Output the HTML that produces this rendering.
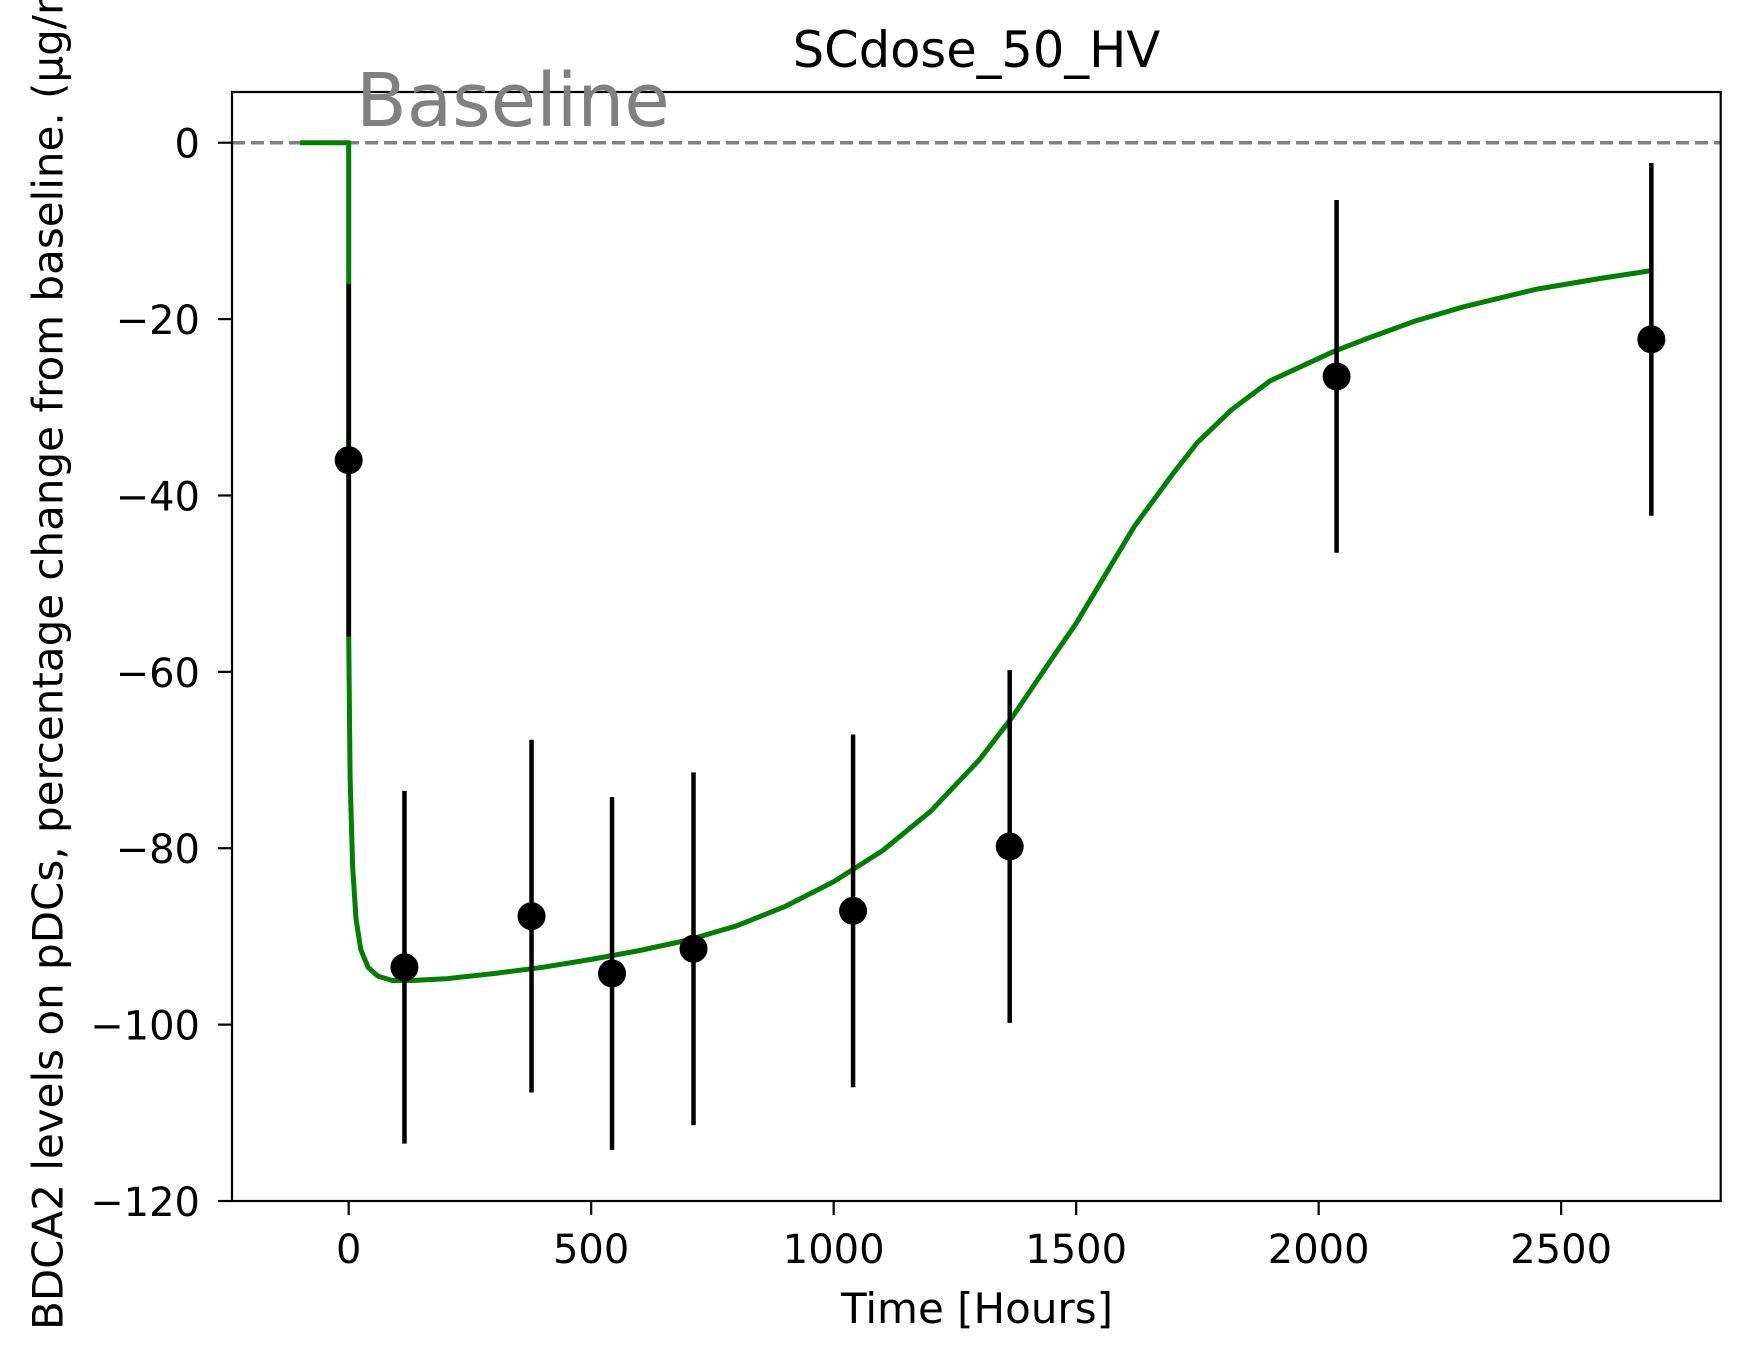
<!DOCTYPE html>
<html><head><meta charset="utf-8"><style>html,body{margin:0;padding:0;background:#fff}svg{display:block}</style></head>
<body>
<svg id="chart" width="1750" height="1361" viewBox="0 0 1750 1361" xmlns="http://www.w3.org/2000/svg" font-family="'DejaVu Sans','Liberation Sans',sans-serif">
<rect width="1750" height="1361" fill="#fff"/>
<g id="plot"></g>
</svg>
<script>
const xTicks = [0, 500, 1000, 1500, 2000, 2500];
const yTicks = [0, -20, -40, -60, -80, -100, -120];
const obsTime = [0, 115, 377, 543, 711, 1040, 1363, 2037, 2686];
const obsValue = [-36, -93.5, -87.7, -94.2, -91.4, -87.1, -79.8, -26.5, -22.3];
const obsErr = [20, 20, 20, 20, 20, 20, 20, 20, 20];
const modelTime = [-100, 0, 0, 3, 8, 15, 25, 40, 60, 90, 130, 200, 300, 400, 500, 600, 700, 800, 900, 1000, 1100, 1200, 1300, 1370, 1450, 1500, 1560, 1620, 1700, 1750, 1820, 1900, 2030, 2100, 2200, 2300, 2450, 2580, 2686];
const modelValue = [0, 0, -56, -72, -82, -88, -91.5, -93.5, -94.5, -95, -95, -94.8, -94.2, -93.5, -92.6, -91.6, -90.4, -88.8, -86.6, -83.8, -80.3, -75.8, -70, -65, -58.5, -54.5, -49, -43.5, -37.5, -34, -30.3, -27, -23.7, -22.2, -20.2, -18.6, -16.6, -15.4, -14.5];

const L=232, R=1720.7, T=92, B=1201, X0=-240.6, X1=2829, Y0=-120, Y1=5.75;
const sx = v => L + (v - X0) / (X1 - X0) * (R - L);
const sy = v => B - (v - Y0) / (Y1 - Y0) * (B - T);
const NS = 'http://www.w3.org/2000/svg';
const g = document.getElementById('plot');
function mk(tag, attrs, parent) {
  const e = document.createElementNS(NS, tag);
  for (const k in attrs) e.setAttribute(k, attrs[k]);
  (parent || g).appendChild(e);
  return e;
}
const defs = mk('defs', {});
const cp = mk('clipPath', {id: 'clip'}, defs);
mk('rect', {x: L, y: T, width: R - L, height: B - T}, cp);

const bl = mk('line', {x1: L, x2: R, y1: sy(0), y2: sy(0), stroke: '#808080', 'stroke-width': 3.5, 'stroke-dasharray': '13,6'});



const pts = modelTime.map((t, i) => sx(t).toFixed(1) + ',' + sy(modelValue[i]).toFixed(1)).join(' ');
const curve = mk('polyline', {points: pts, fill: 'none', stroke: '#008000', 'stroke-width': 5, 'stroke-linejoin': 'round', 'clip-path': 'url(#clip)'});



obsTime.forEach((t, i) => {
  const eb = mk('line', {x1: sx(t), x2: sx(t), y1: sy(obsValue[i] + obsErr[i]), y2: sy(obsValue[i] - obsErr[i]), stroke: '#000', 'stroke-width': 4.5});
  
  
  const c = mk('circle', {cx: sx(t), cy: sy(obsValue[i]), r: 14, fill: '#000'});
  
  
});

const fr = mk('rect', {x: L, y: T, width: R - L, height: B - T, fill: 'none', stroke: '#000', 'stroke-width': 2.2});



xTicks.forEach(v => {
  const x = sx(v);
  const tk = mk('line', {x1: x, x2: x, y1: B, y2: B + 14, stroke: '#000', 'stroke-width': 2.2});
  
  
  const tx = mk('text', {x: x, y: B + 62, 'font-size': 40, 'text-anchor': 'middle', fill: '#000'});
  tx.textContent = String(v);
  
  
});
yTicks.forEach(v => {
  const y = sy(v);
  const tk = mk('line', {x1: L - 14, x2: L, y1: y, y2: y, stroke: '#000', 'stroke-width': 2.2});
  
  
  const tx = mk('text', {x: 200, y: y + 15, 'font-size': 40, 'text-anchor': 'end', fill: '#000'});
  tx.textContent = v < 0 ? '\u2212' + Math.abs(v) : String(v);
  
  
});
</script>
<svg style="position:absolute;left:0;top:0" width="1750" height="1361" xmlns="http://www.w3.org/2000/svg" font-family="'DejaVu Sans','Liberation Sans',sans-serif">
<text x="976.5" y="67" font-size="49.5" text-anchor="middle">SCdose_50_HV</text>
<text x="356" y="126" font-size="74" fill="#808080">Baseline</text>
<text x="977" y="1323" font-size="42" text-anchor="middle">Time [Hours]</text>
<text transform="translate(62.7,1330) rotate(-90)" font-size="42" text-anchor="start">BDCA2 levels on pDCs, percentage change from baseline. (µg/mL)</text>
</svg>
</body></html>
